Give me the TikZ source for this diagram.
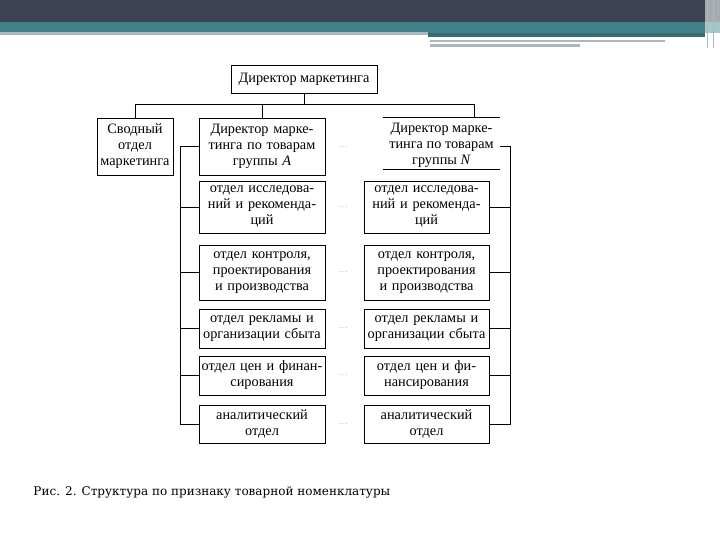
\documentclass[tikz,border=0pt]{standalone}
\usepackage{fontspec}
\setmainfont{Liberation Serif}
\newfontfamily\capfont{DejaVu Serif}
\usetikzlibrary{positioning}
\definecolor{slate}{HTML}{3E4353}
\definecolor{teal}{HTML}{3F8089}
\definecolor{pale}{HTML}{A9B9BF}
\definecolor{dots}{HTML}{9A9A9A}

\begin{document}
\begin{tikzpicture}[x=1pt,y=-1pt,
  box/.style={draw,line width=0.9pt,align=center,inner sep=0pt,font=\fontsize{14.3}{16}\selectfont},
  lbox/.style={box,minimum width=126,text width=125},
  rbox/.style={box,minimum width=125,text width=124},
  dd/.style={font=\fontsize{8}{8}\selectfont,text=dots,inner sep=0pt},
  every path/.style={line width=0.9pt}]
\useasboundingbox (0,0) rectangle (720,540);
% header
\fill[slate] (0,0) rectangle (720,22);
\fill[teal] (0,22) rectangle (720,33);
\fill[pale] (0,32) rectangle (428,35);
\fill[teal!85!black] (428,33) rectangle (705,37);
\fill[pale] (430,40) rectangle (665,42);
\fill[pale] (430,44) rectangle (580,47);
\fill[white,opacity=0.55] (705,0) rectangle (720,48);
\draw[pale,line width=0.6pt] (707,0) -- (707,48) (713,0) -- (713,48);
% top
\node[box,minimum width=146,minimum height=28] (dir) at (304,79) {Директор маркетинга};
\node[box,minimum width=76,minimum height=57,text width=76] (sv) at (135,146.5) {Сводный\\отдел\\маркетинга};
\node[lbox,minimum height=57] (dA) at (262,146.5) {Директор марке-\\тинга по товарам\\группы \textit{A}};
\node[align=center,inner sep=0pt,minimum width=117,minimum height=57,font=\fontsize{14.3}{16}\selectfont] (dN) at (441.5,145.5) {Директор марке-\\тинга по товарам\\группы \textit{N}};
\draw ([yshift=-1pt]dN.north west) -- ([yshift=-1pt]dN.north east);
\draw ([yshift=5pt]dN.south west) -- ([yshift=5pt]dN.south east);
\draw (dir.south) -- ++(0,11) coordinate (t);
\draw (sv.north) |- (t) -| ([xshift=33,yshift=-1pt]dN.north);
\draw (dA.north) -- (dA.north |- t);
% departments
\node[lbox,minimum height=52] (a1) at (262,207) {отдел исследова-\\ний и рекоменда-\\ций};
\node[lbox,minimum height=55] (a2) at (262,272.5) {отдел контроля,\\проектирования\\и производства};
\node[lbox,minimum height=39] (a3) at (262,328.5) {отдел рекламы и\\организации сбыта};
\node[lbox,minimum height=39] (a4) at (262,375.5) {отдел цен и финан-\\сирования};
\node[lbox,minimum height=38] (a5) at (262,424) {аналитический\\отдел};
\node[rbox,minimum height=52] (n1) at (426.5,207) {отдел исследова-\\ний и рекоменда-\\ций};
\node[rbox,minimum height=55] (n2) at (426.5,272.5) {отдел контроля,\\проектирования\\и производства};
\node[rbox,minimum height=39] (n3) at (426.5,328.5) {отдел рекламы и\\организации сбыта};
\node[rbox,minimum height=39] (n4) at (426.5,375.5) {отдел цен и фи-\\нансирования};
\node[rbox,minimum height=38] (n5) at (426.5,424) {аналитический\\отдел};
\node[dd] (p0) at (343,147) {.\,.\,.};
\foreach \i in {1,...,5} {
  \node[dd] (p\i) at (a\i.east -| p0) {.\,.\,.};
  \draw (a\i.west) -- ++(-18,0);
  \draw (n\i.east) -- ++(21,0);
}
\draw (dA.west) -- ++(-18,0) |- (a5.west);
\draw ([yshift=-1pt]dN.east) -- ++(10,0) |- (n5.east);
% caption
\node[anchor=west,inner sep=0pt,font=\capfont\fontsize{12}{14}\selectfont] (cap) at (33,492)
  {Рис. 2. Структура по признаку товарной номенклатуры};
\end{tikzpicture}
\end{document}
